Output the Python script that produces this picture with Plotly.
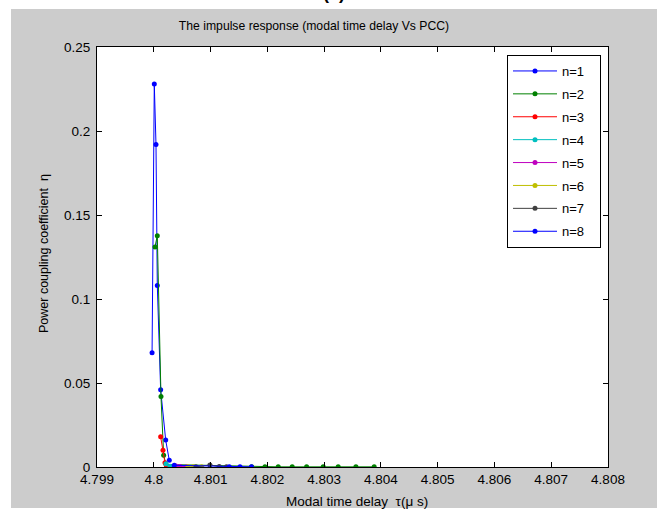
import plotly.graph_objects as go

# ---- data ----
labels = ["n=1", "n=2", "n=3", "n=4", "n=5", "n=6", "n=7", "n=8"]
colors = ["#0000ff", "#008000", "#ff0000", "#00bfbf", "#bf00bf", "#bfbf00", "#404040", "#0000ff"]

x1 = [4.79997, 4.800009, 4.800039, 4.800062, 4.800121, 4.80021, 4.800273]
y1 = [0.068, 0.228, 0.192, 0.108, 0.046, 0.016, 0.004]

x2 = [4.800021, 4.800062, 4.800127, 4.800174, 4.800215, 4.801724, 4.801958, 4.802192,
      4.802438, 4.802692, 4.802984, 4.803248, 4.80356, 4.803882]
y2 = [0.131, 0.1377, 0.0419, 0.007, 0.0015, 0.0001, 0.0001, 0.0001,
      0.0001, 0.0001, 0.0001, 0.0001, 0.0001, 0.0001]

x3 = [4.800121, 4.800162, 4.800197, 4.800224]
y3 = [0.018, 0.010, 0.0026, 0.0004]

x4 = [4.800215, 4.800285, 4.800373]
y4 = [0.002, 0.0005, 0.0002]

x5 = [4.800391, 4.800461, 4.800576]
y5 = [0.0006, 0.0003, 0.0002]

x6 = [4.800602, 4.800695, 4.800843]
y6 = [0.0002, 0.0002, 0.0002]

x7 = [4.800743, 4.800989, 4.801153, 4.80128]
y7 = [0.0001, 0.0012, 0.0003, 0.0001]

x8 = [4.800361, 4.801329, 4.801518, 4.80172]
y8 = [0.001, 0.0001, 0.0001, 0.0001]

xs = [x1, x2, x3, x4, x5, x6, x7, x8]
ys = [y1, y2, y3, y4, y5, y6, y7, y8]

x_ticks = [4.799, 4.800, 4.801, 4.802, 4.803, 4.804, 4.805, 4.806, 4.807, 4.808]
x_tick_labels = ["4.799", "4.8", "4.801", "4.802", "4.803", "4.804", "4.805", "4.806", "4.807", "4.808"]
y_ticks = [0, 0.05, 0.1, 0.15, 0.2, 0.25]
y_tick_labels = ["0", "0.05", "0.1", "0.15", "0.2", "0.25"]

W, H = 657, 515
L, R, T, B = 97, 49, 47, 48
pw, ph = W - L - R, H - T - B

def px(xp):
    return (xp - L) / pw

def py(yp):
    return (H - B - yp) / ph

FONT = "Liberation Sans, Arial, sans-serif"

fig = go.Figure()
for i, (x, y) in enumerate(zip(xs, ys)):
    fig.add_trace(go.Scatter(
        x=x, y=y, mode="lines+markers", name=labels[i] + "\u00a0\u00a0\u00a0",
        line=dict(color=colors[i], width=1),
        marker=dict(color=colors[i], size=5, symbol="circle"),
        legendgroup=str(i),
    ))

axis_common = dict(
    showline=True, linecolor="black", linewidth=1, mirror="ticks",
    ticks="inside", ticklen=5, tickcolor="black", showgrid=False, zeroline=False,
    tickfont=dict(family=FONT, size=13.5, color="black"), automargin=False,
)

fig.update_layout(
    width=W, height=H,
    margin=dict(l=L, r=R, t=T, b=B),
    paper_bgcolor="#cccccc", plot_bgcolor="white",
    showlegend=True,
    title=dict(text="The impulse response (modal time delay Vs PCC)",
               x=314 / W, xanchor="center", y=1 - 26 / H, yanchor="middle",
               font=dict(family=FONT, size=12.2, color="black")),
    xaxis=dict(range=[4.799, 4.808], tickvals=x_ticks, ticktext=x_tick_labels,
               **axis_common),
    yaxis=dict(range=[0, 0.25], tickvals=y_ticks, ticktext=y_tick_labels,
               ticklabelstandoff=3, **axis_common),
    legend=dict(x=px(507), y=py(55), xanchor="left", yanchor="top",
                bgcolor="white", bordercolor="black", borderwidth=1,
                font=dict(family=FONT, size=13, color="black"),
                traceorder="grouped", tracegroupgap=3, itemwidth=44),
    shapes=[
        dict(type="rect", xref="paper", yref="paper", x0=px(-5), x1=px(W + 5),
             y0=py(9), y1=py(-20), fillcolor="white", line=dict(width=0), layer="above"),
        dict(type="rect", xref="paper", yref="paper", x0=px(-5), x1=px(11),
             y0=py(H + 20), y1=py(-20), fillcolor="white", line=dict(width=0), layer="above"),
        dict(type="rect", xref="paper", yref="paper", x0=px(-5), x1=px(W + 5),
             y0=py(H + 20), y1=py(508), fillcolor="white", line=dict(width=0), layer="above"),
    ],
    annotations=[
        dict(text="<b>(a)</b>", xref="paper", yref="paper", x=px(334), y=py(5), xanchor="center",
             yanchor="bottom", showarrow=False, font=dict(family=FONT, size=18, color="black")),
        dict(text="Modal time delay  τ(μ s)", xref="paper", yref="paper", x=px(357), y=py(502),
             xanchor="center", yanchor="middle", showarrow=False,
             font=dict(family=FONT, size=13.5, color="black")),
        dict(text="Power coupling coefficient  η", xref="paper", yref="paper", x=px(44), y=py(254),
             xanchor="center", yanchor="middle", textangle=-90, showarrow=False,
             font=dict(family=FONT, size=12.5, color="black")),
    ],
)

fig.write_html("out.html")
